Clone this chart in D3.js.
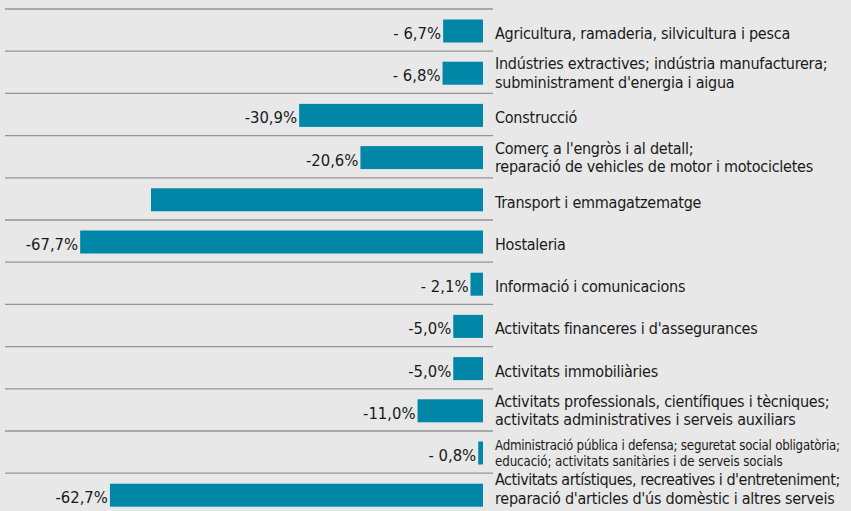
<!DOCTYPE html>
<html>
<head>
<meta charset="utf-8">
<script src="https://cdn.jsdelivr.net/npm/d3@7"></script>
<style>
  html, body { margin: 0; padding: 0; background: #e8e8e8; }
  svg { display: block; }
  text { font-family: "Liberation Sans Narrow", "DejaVu Sans Condensed", sans-serif; fill: #1a1a1a; }
</style>
</head>
<body>
<div id="chart"></div>
<script>
/**
 * DATA
 * */
const categories = [
  ["Agricultura, ramaderia, silvicultura i pesca"],
  ["Indústries extractives; indústria manufacturera;", "subministrament d'energia i aigua"],
  ["Construcció"],
  ["Comerç a l'engròs i al detall;", "reparació de vehicles de motor i motocicletes"],
  ["Transport i emmagatzematge"],
  ["Hostaleria"],
  ["Informació i comunicacions"],
  ["Activitats financeres i d'assegurances"],
  ["Activitats immobiliàries"],
  ["Activitats professionals, científiques i tècniques;", "activitats administratives i serveis auxiliars"],
  ["Administració pública i defensa; seguretat social obligatòria;", "educació; activitats sanitàries i de serveis socials"],
  ["Activitats artístiques, recreatives i d'entreteniment;", "reparació d'articles d'ús domèstic i altres serveis"]
];
const values = [-6.7, -6.8, -30.9, -20.6, -55.8, -67.7, -2.1, -5.0, -5.0, -11.0, -0.8, -62.7];
const valueLabels = ["- 6,7%", "- 6,8%", "-30,9%", "-20,6%", "", "-67,7%", "- 2,1%",
  "-5,0%", "-5,0%", "-11,0%", "- 0,8%", "-62,7%"];

/**
 * CONSTANTS
 * */
const width = 851,
  height = 511,
  rowH = 42.2,
  topY = 9,
  barH = 23,
  labelX = 495,
  maxLine = 345;

const rows = categories.map((c, i) => ({ i, lines: c, value: values[i], label: valueLabels[i] }));

const svg = d3.select("#chart")
  .append("svg")
  .attr("width", width)
  .attr("height", height);

// SCALES
const xScale = d3.scaleLinear()
  .domain([-70, 0])
  .range([483 - 70 * 5.95, 483]);

const yScale = d3.scaleBand()
  .domain(rows.map(d => d.i))
  .range([topY, topY + rowH * rows.length])
  .padding(0);

// separator lines at top of each row
svg.selectAll(".sep")
  .data(rows)
  .join("line")
  .attr("class", "sep")
  .attr("x1", 5)
  .attr("x2", 493)
  .attr("y1", d => yScale(d.i))
  .attr("y2", d => yScale(d.i))
  .attr("stroke", "#959595")
  .attr("stroke-width", 1.3);

// bars
svg.selectAll(".bar")
  .data(rows)
  .join("rect")
  .attr("class", "bar")
  .attr("x", d => xScale(d.value))
  .attr("width", d => xScale(0) - xScale(d.value))
  .attr("y", d => yScale(d.i) + 10.5)
  .attr("height", barH)
  .attr("fill", "#0087a8");

// value labels
svg.selectAll(".val")
  .data(rows)
  .join("text")
  .attr("class", "val")
  .attr("x", d => xScale(d.value) - 2)
  .attr("y", d => yScale(d.i) + 30)
  .attr("text-anchor", "end")
  .attr("font-size", 16.5)
  .text(d => d.label);

// category labels
const cat = svg.selectAll(".cat")
  .data(rows)
  .join("text")
  .attr("class", "cat")
  .attr("x", labelX)
  .attr("font-size", d => d.i === 10 ? 13.2 : 16)
  .attr("letter-spacing", d => d.i === 10 ? -0.1 : -0.25);

cat.each(function(d) {
  const el = d3.select(this);
  const mid = yScale(d.i) + 22;
  let first;
  if (d.lines.length === 1) first = mid + 8;
  else if (d.i === 10) first = mid - 3;
  else first = mid - 4;
  if (d.i === rows.length - 1) first -= 6; // last row pushed up to fit
  const step = d.i === 10 ? 16 : 18.5;
  d.lines.forEach((t, k) => {
    const ts = el.append("tspan")
      .attr("x", labelX)
      .attr("y", first + k * step)
      .text(t);
    // squeeze lines that would run past the right edge
    if (ts.node().getComputedTextLength() > maxLine) {
      ts.attr("textLength", maxLine).attr("lengthAdjust", "spacing");
    }
  });
});
</script>
</body>
</html>
